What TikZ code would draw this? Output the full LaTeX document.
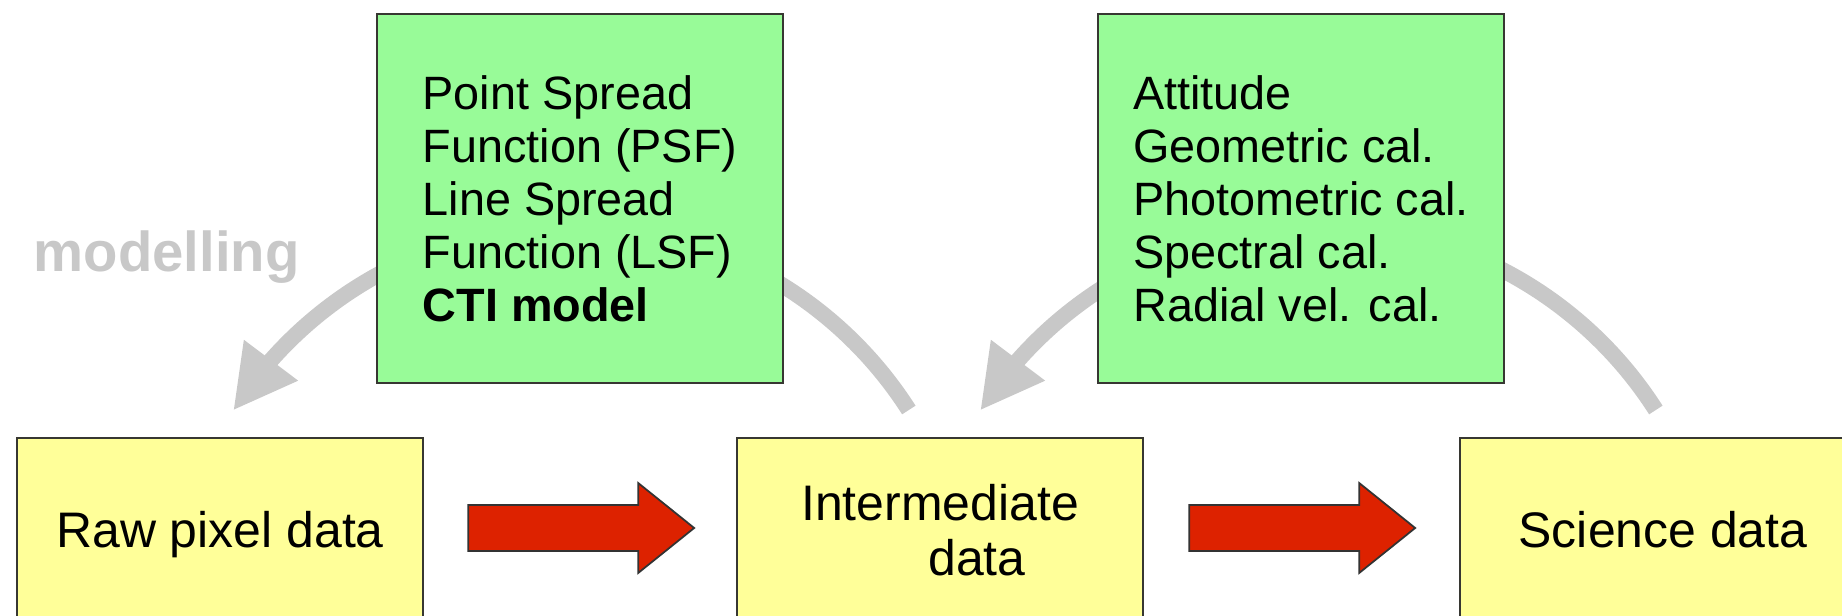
\documentclass[tikz,border=0pt]{standalone}
\usepackage{fontspec}
\setmainfont{Liberation Sans}
\usetikzlibrary{arrows.meta,calc,backgrounds,bending}
\definecolor{gfill}{RGB}{152,251,152}
\definecolor{yfill}{RGB}{255,255,153}
\definecolor{rfill}{RGB}{221,34,0}
\definecolor{arcgray}{RGB}{200,200,200}
\definecolor{edgecol}{RGB}{55,55,50}
\begin{document}
\begin{tikzpicture}[x=0.01cm,y=-0.01cm,
  gbox/.style={draw=edgecol, line width=0.6pt, fill=gfill, minimum width=4.06cm, minimum height=3.69cm, align=left, inner sep=0pt, font=\fontsize{13.3}{15.1}\selectfont},
  ybase/.style={draw=edgecol, line width=0.6pt, fill=yfill, minimum width=4.06cm, inner xsep=0pt, anchor=north, font=\fontsize{14.2}{15.6}\selectfont},
  yone/.style={ybase, text height=10.5pt, text depth=3pt, inner ysep=0.72cm},
  garc/.style={draw=arcgray, line width=0.16cm, -{Triangle[length=0.63cm,width=0.63cm]}},
  redarr/.pic={\draw[fill=rfill, draw=black!80, line width=0.5pt, line join=miter]
     (0,-23) -- (170,-23) -- (170,-45) -- (226,0) -- (170,45) -- (170,23) -- (0,23) -- cycle;}
]
\useasboundingbox (0,0) rectangle (1842,616);
\clip (0,0) rectangle (1842,616);

% yellow data boxes
\node[yone] (raw) at (220,437) {Raw pixel data};
\node[ybase, align=center, inner ysep=0.465cm] (inter) at (940,437) {Intermediate\\\hspace*{0.74cm}data};
\node[yone] (sci) at (1663,437) {Science data};

% green boxes
\node[gbox] (psf) at (580,198.5) {Point Spread\\Function (PSF)\\Line Spread\\Function (LSF)\\\textbf{CTI model}};
\node[gbox] (cal) at (1301,198.5) {Attitude\\Geometric cal.\\Photometric cal.\\Spectral cal.\\Radial vel. cal.};

% label
\node[font=\bfseries\fontsize{16}{19}\selectfont, text=arcgray, anchor=base west, inner sep=0pt] (modl) at (33,272) {modelling};

% red block arrows
\pic at ($(raw.north east)+(44,91)$) {redarr};
\pic at ($(inter.north east)+(45,91)$) {redarr};

% grey curved arrows behind the green boxes
\begin{pgfonlayer}{background}
\draw[garc] ($(inter.north west)+(173,-27)$) arc[start angle=32.6, end angle=147.5, radius=4.006cm];
\draw[garc] ($(sci.north west)+(197,-27)$) arc[start angle=32.6, end angle=147.5, radius=4.006cm];
\end{pgfonlayer}
\end{tikzpicture}
\end{document}
